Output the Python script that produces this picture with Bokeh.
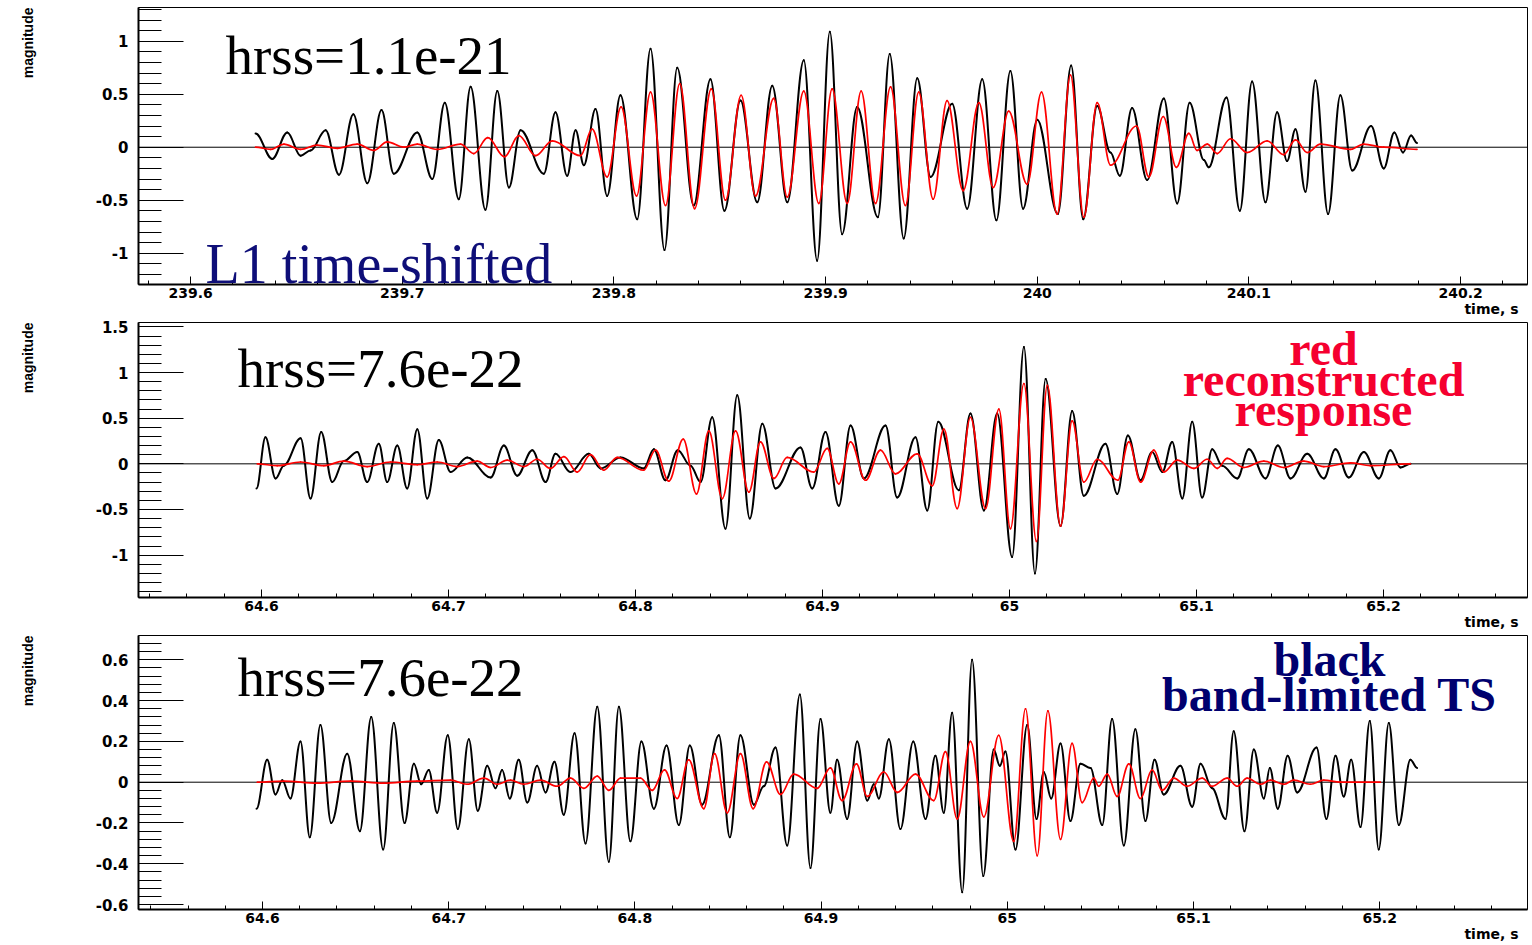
import numpy as np
from bokeh.plotting import figure
from bokeh.models import Range1d, FixedTicker, Span, Label, Title
from bokeh.layouts import column
from bokeh.embed import file_html
from bokeh.resources import INLINE

# ---------------- data (successive extrema) ----------------
# Panel 1: L1 time-shifted, hrss=1.1e-21
p1_black_t = [239.6307, 239.6386, 239.6457, 239.6520, 239.6567, 239.6638, 239.6701, 239.6769, 239.6835, 239.6902,
              239.6960, 239.7071, 239.7142, 239.7201, 239.7267, 239.7323, 239.7393, 239.7449, 239.7504, 239.7559,
              239.7669, 239.7724, 239.7779, 239.7819, 239.7858, 239.7913, 239.7968, 239.8031, 239.8110, 239.8173,
              239.8239, 239.8299, 239.8377, 239.8456, 239.8522, 239.8598, 239.8677, 239.8748, 239.8819, 239.8897,
              239.8960, 239.9020, 239.9078, 239.9149, 239.9247, 239.9303, 239.9369, 239.9433, 239.9496, 239.9598,
              239.9669, 239.9740, 239.9807, 239.9873, 239.9933, 240.0000, 240.0097, 240.0160, 240.0217, 240.0283,
              240.0346, 240.0390, 240.0448, 240.0519, 240.0598, 240.0661, 240.0720, 240.0787, 240.0810, 240.0894,
              240.0957, 240.1015, 240.1078, 240.1133, 240.1180, 240.1220, 240.1267, 240.1314, 240.1374, 240.1432,
              240.1488, 240.1577, 240.1637, 240.1687, 240.1728, 240.1766, 240.1794]
p1_black_v = [0.13, -0.11, 0.14, -0.08, -0.03, 0.16, -0.26, 0.31, -0.34, 0.35,
              -0.25, 0.14, -0.30, 0.42, -0.49, 0.57, -0.59, 0.53, -0.38, 0.16,
              -0.25, 0.33, -0.27, 0.16, -0.17, 0.36, -0.46, 0.49, -0.68, 0.93,
              -0.97, 0.75, -0.55, 0.64, -0.60, 0.44, -0.52, 0.58, -0.52, 0.82,
              -1.07, 1.09, -0.82, 0.38, -0.66, 0.88, -0.86, 0.65, -0.28, 0.41,
              -0.58, 0.64, -0.69, 0.72, -0.58, 0.26, -0.63, 0.77, -0.68, 0.39,
              -0.05, -0.27, 0.37, -0.31, 0.46, -0.53, 0.42, -0.12, -0.19, 0.47,
              -0.60, 0.62, -0.52, 0.33, -0.13, 0.17, -0.42, 0.63, -0.63, 0.49,
              -0.22, 0.20, -0.20, 0.14, -0.05, 0.11, 0.04]
p1_red_t = [239.6307, 239.6378, 239.6441, 239.6520, 239.6598, 239.6693, 239.6787, 239.6866, 239.6929, 239.7008,
            239.7071, 239.7165, 239.7275, 239.7338, 239.7404, 239.7483, 239.7551, 239.7630, 239.7709, 239.7842,
            239.7897, 239.7968, 239.8034, 239.8107, 239.8173, 239.8244, 239.8311, 239.8381, 239.8460, 239.8527,
            239.8601, 239.8669, 239.8755, 239.8819, 239.8897, 239.8968, 239.9031, 239.9102, 239.9168, 239.9236,
            239.9307, 239.9377, 239.9440, 239.9508, 239.9574, 239.9650, 239.9724, 239.9792, 239.9865, 239.9952,
            240.0020, 240.0094, 240.0157, 240.0220, 240.0283, 240.0346, 240.0469, 240.0527, 240.0595, 240.0657,
            240.0716, 240.0755, 240.0803, 240.0850, 240.0913, 240.0992, 240.1086, 240.1164, 240.1220, 240.1275,
            240.1338, 240.1479, 240.1542, 240.1637, 240.1794]
p1_red_v = [0.00, -0.02, 0.03, -0.02, 0.02, -0.01, 0.03, -0.03, 0.05, 0.00,
            0.03, -0.02, 0.03, -0.06, 0.09, -0.09, 0.11, -0.08, 0.06, -0.08,
            0.17, -0.28, 0.38, -0.46, 0.52, -0.55, 0.60, -0.58, 0.55, -0.50,
            0.49, -0.46, 0.46, -0.47, 0.53, -0.53, 0.55, -0.53, 0.53, -0.53,
            0.57, -0.55, 0.52, -0.49, 0.44, -0.41, 0.42, -0.38, 0.34, -0.35,
            0.52, -0.63, 0.68, -0.66, 0.42, -0.17, 0.20, -0.28, 0.29, -0.19,
            0.13, -0.03, 0.03, -0.06, 0.08, -0.05, 0.06, -0.07, 0.07, -0.05,
            0.03, -0.02, 0.03, 0.00, -0.02]

# Panel 2: hrss=7.6e-22
p2_black_t = [64.5973, 64.6021, 64.6075, 64.6119, 64.6209, 64.6262, 64.6319, 64.6378, 64.6440, 64.6512,
              64.6565, 64.6627, 64.6672, 64.6726, 64.6779, 64.6833, 64.6886, 64.6948, 64.7011, 64.7100,
              64.7225, 64.7296, 64.7367, 64.7448, 64.7519, 64.7572, 64.7652, 64.7750, 64.7813, 64.7920,
              64.8044, 64.8098, 64.8160, 64.8226, 64.8294, 64.8348, 64.8410, 64.8481, 64.8544, 64.8611,
              64.8678, 64.8749, 64.8882, 64.8945, 64.9016, 64.9087, 64.9150, 64.9221, 64.9337, 64.9399,
              64.9497, 64.9560, 64.9619, 64.9729, 64.9791, 64.9863, 64.9934, 65.0014, 65.0077, 65.0136,
              65.0193, 65.0273, 65.0335, 65.0397, 65.0513, 65.0576, 65.0633, 65.0701, 65.0763, 65.0817,
              65.0870, 65.0924, 65.0977, 65.1030, 65.1084, 65.1137, 65.1218, 65.1280, 65.1369, 65.1435,
              65.1503, 65.1592, 65.1681, 65.1743, 65.1814, 65.1895, 65.1975, 65.2037, 65.2091, 65.2144]
p2_black_v = [-0.27, 0.29, -0.16, -0.02, 0.28, -0.38, 0.35, -0.20, 0.03, 0.13,
              -0.20, 0.22, -0.20, 0.20, -0.27, 0.38, -0.38, 0.26, -0.09, 0.07,
              -0.15, 0.20, -0.13, 0.15, -0.20, 0.11, -0.09, 0.11, -0.05, 0.07,
              -0.05, 0.16, -0.18, 0.15, -0.02, -0.20, 0.51, -0.71, 0.75, -0.60,
              0.44, -0.27, 0.18, -0.27, 0.35, -0.46, 0.42, -0.16, 0.42, -0.37,
              0.29, -0.51, 0.46, -0.29, 0.55, -0.51, 0.55, -1.02, 1.28, -1.20,
              0.93, -0.68, 0.58, -0.35, 0.22, -0.33, 0.31, -0.18, 0.13, -0.09,
              0.24, -0.38, 0.46, -0.37, 0.16, -0.02, -0.16, 0.16, -0.16, 0.20,
              -0.16, 0.11, -0.16, 0.16, -0.15, 0.13, -0.16, 0.15, -0.04, 0.00]
p2_red_t = [64.5977, 64.6084, 64.6209, 64.6333, 64.6440, 64.6565, 64.6690, 64.6833, 64.6940, 64.7047,
            64.7153, 64.7225, 64.7314, 64.7403, 64.7474, 64.7545, 64.7617, 64.7688, 64.7759, 64.7830,
            64.7902, 64.8043, 64.8107, 64.8178, 64.8255, 64.8326, 64.8392, 64.8464, 64.8535, 64.8606,
            64.8668, 64.8740, 64.8811, 64.8953, 64.9025, 64.9087, 64.9150, 64.9230, 64.9310, 64.9390,
            64.9506, 64.9587, 64.9649, 64.9720, 64.9791, 64.9872, 64.9943, 65.0005, 65.0077, 65.0144,
            65.0202, 65.0273, 65.0335, 65.0397, 65.0469, 65.0579, 65.0638, 65.0701, 65.0772, 65.0825,
            65.0897, 65.0986, 65.1057, 65.1111, 65.1164, 65.1253, 65.1360, 65.1467, 65.1574, 65.1681,
            65.1824, 65.1930, 65.2144]
p2_red_v = [0.00, -0.02, 0.02, -0.02, 0.03, -0.03, 0.02, -0.01, 0.02, -0.03,
            0.03, -0.04, 0.04, -0.03, 0.05, -0.05, 0.08, -0.09, 0.10, -0.07,
            0.07, -0.07, 0.15, -0.19, 0.27, -0.33, 0.36, -0.38, 0.36, -0.31,
            0.24, -0.16, 0.07, -0.09, 0.17, -0.22, 0.24, -0.18, 0.15, -0.11,
            0.11, -0.24, 0.38, -0.49, 0.51, -0.49, 0.60, -0.71, 0.88, -0.85,
            0.86, -0.68, 0.47, -0.20, 0.05, -0.18, 0.24, -0.20, 0.15, -0.09,
            0.04, -0.05, 0.05, -0.05, 0.06, -0.04, 0.03, -0.04, 0.03, -0.03,
            0.01, -0.02, 0.00]

# Panel 3: hrss=7.6e-22
p3_black_t = [64.5968, 64.6025, 64.6070, 64.6106, 64.6150, 64.6204, 64.6254, 64.6311, 64.6369, 64.6455,
              64.6523, 64.6584, 64.6648, 64.6705, 64.6763, 64.6813, 64.6852, 64.6893, 64.6938, 64.6995,
              64.7049, 64.7108, 64.7156, 64.7207, 64.7251, 64.7287, 64.7328, 64.7376, 64.7422, 64.7475,
              64.7520, 64.7568, 64.7618, 64.7676, 64.7735, 64.7798, 64.7860, 64.7914, 64.7976, 64.8035,
              64.8102, 64.8170, 64.8236, 64.8295, 64.8361, 64.8451, 64.8510, 64.8567, 64.8639, 64.8692,
              64.8755, 64.8818, 64.8886, 64.8943, 64.8997, 64.9050, 64.9086, 64.9140, 64.9194, 64.9248,
              64.9283, 64.9310, 64.9364, 64.9426, 64.9495, 64.9561, 64.9614, 64.9659, 64.9704, 64.9758,
              64.9811, 64.9871, 64.9927, 64.9960, 64.9990, 65.0044, 65.0107, 65.0157, 65.0196, 65.0236,
              65.0286, 65.0339, 65.0393, 65.0447, 65.0510, 65.0563, 65.0626, 65.0688, 65.0742, 65.0791,
              65.0840, 65.0930, 65.0993, 65.1038, 65.1100, 65.1172, 65.1216, 65.1274, 65.1324, 65.1378,
              65.1410, 65.1453, 65.1506, 65.1557, 65.1661, 65.1714, 65.1763, 65.1807, 65.1847, 65.1897,
              65.1947, 65.1995, 65.2049, 65.2103, 65.2165, 65.2201]
p3_black_v = [-0.13, 0.11, -0.06, 0.01, -0.08, 0.20, -0.27, 0.28, -0.20, 0.14,
              -0.24, 0.32, -0.33, 0.29, -0.20, 0.09, -0.01, 0.06, -0.15, 0.23,
              -0.23, 0.21, -0.14, 0.08, -0.03, 0.06, -0.08, 0.11, -0.10, 0.08,
              -0.05, 0.10, -0.16, 0.24, -0.30, 0.37, -0.39, 0.37, -0.29, 0.20,
              -0.13, 0.18, -0.21, 0.18, -0.11, 0.23, -0.27, 0.23, -0.11, -0.02,
              0.17, -0.31, 0.43, -0.42, 0.31, -0.15, 0.11, -0.18, 0.20, -0.09,
              -0.01, -0.08, 0.21, -0.23, 0.20, -0.18, 0.13, -0.15, 0.34, -0.54,
              0.60, -0.46, 0.16, 0.08, 0.15, -0.33, 0.28, -0.18, 0.05, -0.08,
              0.19, -0.19, 0.09, 0.07, -0.21, 0.31, -0.31, 0.26, -0.19, 0.11,
              -0.06, 0.08, -0.12, 0.09, -0.03, -0.18, 0.25, -0.24, 0.16, -0.08,
              0.07, -0.13, 0.13, -0.05, 0.17, -0.18, 0.13, -0.07, 0.11, -0.22,
              0.30, -0.33, 0.29, -0.21, 0.11, 0.07]
p3_red_t = [64.5972, 64.6114, 64.6294, 64.6473, 64.6651, 64.6830, 64.7010, 64.7099, 64.7189, 64.7260,
            64.7332, 64.7403, 64.7493, 64.7583, 64.7654, 64.7726, 64.7798, 64.7860, 64.7923, 64.8030,
            64.8093, 64.8159, 64.8227, 64.8289, 64.8370, 64.8428, 64.8496, 64.8567, 64.8635, 64.8707,
            64.8782, 64.8853, 64.8979, 64.9050, 64.9113, 64.9190, 64.9248, 64.9337, 64.9409, 64.9507,
            64.9605, 64.9668, 64.9731, 64.9802, 64.9874, 64.9954, 65.0035, 65.0098, 65.0161, 65.0218,
            65.0286, 65.0348, 65.0402, 65.0465, 65.0491, 65.0537, 65.0590, 65.0653, 65.0715, 65.0778,
            65.0832, 65.0894, 65.0966, 65.1047, 65.1100, 65.1181, 65.1235, 65.1288, 65.1360, 65.1414,
            65.1485, 65.1539, 65.1628, 65.1700, 65.1789, 65.2004]
p3_red_v = [0.00, 0.005, -0.005, 0.005, -0.005, 0.005, 0.01, -0.01, 0.02, -0.01,
            0.01, -0.01, 0.01, -0.02, 0.02, -0.03, 0.03, -0.04, 0.02, 0.02,
            -0.04, 0.06, -0.08, 0.11, -0.13, 0.14, -0.15, 0.14, -0.13, 0.10,
            -0.06, 0.04, -0.03, 0.07, -0.09, 0.09, -0.07, 0.05, -0.05, 0.04,
            -0.09, 0.15, -0.18, 0.20, -0.17, 0.23, -0.29, 0.36, -0.36, 0.35,
            -0.28, 0.19, -0.10, 0.02, -0.02, 0.04, -0.07, 0.09, -0.08, 0.06,
            -0.04, 0.02, -0.02, 0.02, -0.02, 0.02, -0.02, 0.02, -0.01, 0.01,
            -0.01, 0.01, -0.01, 0.01, 0.00, 0.00]

# tick labels
p1_x_ticks = [239.6, 239.7, 239.8, 239.9, 240.0, 240.1, 240.2]
p1_x_labels = ["239.6", "239.7", "239.8", "239.9", "240", "240.1", "240.2"]
p1_y_ticks = [-1.0, -0.5, 0.0, 0.5, 1.0]
p1_y_labels = ["-1", "-0.5", "0", "0.5", "1"]
p23_x_ticks = [64.6, 64.7, 64.8, 64.9, 65.0, 65.1, 65.2]
p23_x_labels = ["64.6", "64.7", "64.8", "64.9", "65", "65.1", "65.2"]
p2_y_ticks = [-1.0, -0.5, 0.0, 0.5, 1.0, 1.5]
p2_y_labels = ["-1", "-0.5", "0", "0.5", "1", "1.5"]
p3_y_ticks = [-0.6, -0.4, -0.2, 0.0, 0.2, 0.4, 0.6]
p3_y_labels = ["-0.6", "-0.4", "-0.2", "0", "0.2", "0.4", "0.6"]

NAVY = "#0e0e78"
NAVY2 = "#00006e"
REDTXT = "#f5002f"


def make_panel(xr, yr, xt, xl, xminor, yt, yl, yminor, fh, top, bottom):
    p = figure(output_backend="svg", toolbar_location=None, title=None,
               frame_width=1389, frame_height=fh,
               min_border_left=138, min_border_right=5,
               min_border_top=top, min_border_bottom=bottom,
               x_range=Range1d(*xr), y_range=Range1d(*yr))
    p.background_fill_color = "white"
    p.border_fill_color = "white"
    p.outline_line_color = "black"
    p.outline_line_width = 1
    p.xgrid.visible = False
    p.ygrid.visible = False
    for ax, ticks, labels, minor, tin, min_in, standoff, fs in (
            (p.xaxis[0], xt, xl, xminor, 8, 4, 3, "14px"),
            (p.yaxis[0], yt, yl, yminor, 45, 23, 10, "15px")):
        ax.ticker = FixedTicker(ticks=ticks, minor_ticks=list(minor))
        ax.major_label_overrides = {t: s for t, s in zip(ticks, labels)}
        ax.major_tick_in = tin
        ax.major_tick_out = 0
        ax.minor_tick_in = min_in
        ax.minor_tick_out = 0
        ax.axis_line_width = 2
        ax.axis_line_color = "black"
        ax.major_tick_line_color = "black"
        ax.minor_tick_line_color = "black"
        ax.major_label_text_font = "DejaVu Sans"
        ax.major_label_text_font_style = "bold"
        ax.major_label_text_font_size = fs
        ax.major_label_text_color = "black"
        ax.major_label_standoff = standoff
    # blank spacer so that the vertical axis title sits at the far left, as in ROOT
    p.yaxis[0].axis_label = " "
    p.yaxis[0].axis_label_standoff = 45
    p.yaxis[0].axis_label_text_font_size = "2px"
    zero = Span(location=0, dimension="width", line_color="black", line_width=1)
    zero.level = "underlay"
    p.add_layout(zero)
    # ROOT-style axis titles at the ends of the axes
    p.add_layout(Title(text="magnitude", align="right", vertical_align="top", standoff=10, offset=0,
                       text_font="Liberation Sans", text_font_style="bold", text_font_size="14px",
                       text_color="black"), "left")
    p.add_layout(Title(text="time, s", align="right", vertical_align="top", standoff=0, offset=9,
                       text_font="DejaVu Sans", text_font_style="bold", text_font_size="14px",
                       text_color="black"), "below")
    return p


def trace(p, t, v, color, width):
    # smooth trace through the read extrema (horizontal tangent at each extremum)
    t = np.asarray(t, dtype=float)
    v = np.asarray(v, dtype=float)
    dt = np.diff(t)
    p.bezier(x0=t[:-1], y0=v[:-1], x1=t[1:], y1=v[1:],
             cx0=t[:-1] + 0.363 * dt, cy0=v[:-1], cx1=t[1:] - 0.363 * dt, cy1=v[1:],
             line_color=color, line_width=width, line_cap="round")


def serif(p, x, y, text, size, color, bold=False, align="left"):
    p.add_layout(Label(x=x, y=y, x_units="screen", y_units="screen", text=text,
                       text_font="Liberation Serif", text_font_size=size,
                       text_font_style="bold" if bold else "normal",
                       text_color=color, text_align=align, text_baseline="alphabetic"))


# ---- panel 1 ----
p1 = make_panel((239.5754, 240.2316), (-1.295, 1.318), p1_x_ticks, p1_x_labels,
                np.round(np.arange(239.58, 240.23, 0.02), 3), p1_y_ticks, p1_y_labels,
                np.round(np.arange(-1.2, 1.31, 0.1), 2), 277, 7, 36)
trace(p1, p1_black_t, p1_black_v, "black", 2)
trace(p1, p1_red_t, p1_red_v, "red", 1.7)
serif(p1, 87, 229, "hrss=1.1e-21", "55px", "black")
serif(p1, 67, 21, "L1 time-shifted", "56px", NAVY)

# ---- panel 2 ----
p2 = make_panel((64.5342, 65.2770), (-1.464, 1.548), p23_x_ticks, p23_x_labels,
                np.round(np.arange(64.54, 65.27, 0.02), 3), p2_y_ticks, p2_y_labels,
                np.round(np.arange(-1.4, 1.51, 0.1), 2), 275, 2, 36)
trace(p2, p2_black_t, p2_black_v, "black", 2)
trace(p2, p2_red_t, p2_red_v, "red", 1.7)
serif(p2, 99, 229, "hrss=7.6e-22", "55px", "black")
serif(p2, 1185, 249, "red", "48px", REDTXT, bold=True, align="center")
serif(p2, 1185, 218, "reconstructed", "48px", REDTXT, bold=True, align="center")
serif(p2, 1185, 188, "response", "48px", REDTXT, bold=True, align="center")

# ---- panel 3 ----
p3 = make_panel((64.5334, 65.2794), (-0.624, 0.719), p23_x_ticks, p23_x_labels,
                np.round(np.arange(64.54, 65.27, 0.02), 3), p3_y_ticks, p3_y_labels,
                np.round(np.arange(-0.60, 0.71, 0.04), 2), 274, 2, 36)
trace(p3, p3_black_t, p3_black_v, "black", 2)
trace(p3, p3_red_t, p3_red_v, "red", 1.7)
serif(p3, 99, 232, "hrss=7.6e-22", "55px", "black")
serif(p3, 1191, 250, "black", "48px", NAVY2, bold=True, align="center")
serif(p3, 1191, 215, "band-limited TS", "48px", NAVY2, bold=True, align="center")

layout = column(p1, p2, p3, spacing=0)
open("out.html", "w").write(file_html(layout, INLINE))
